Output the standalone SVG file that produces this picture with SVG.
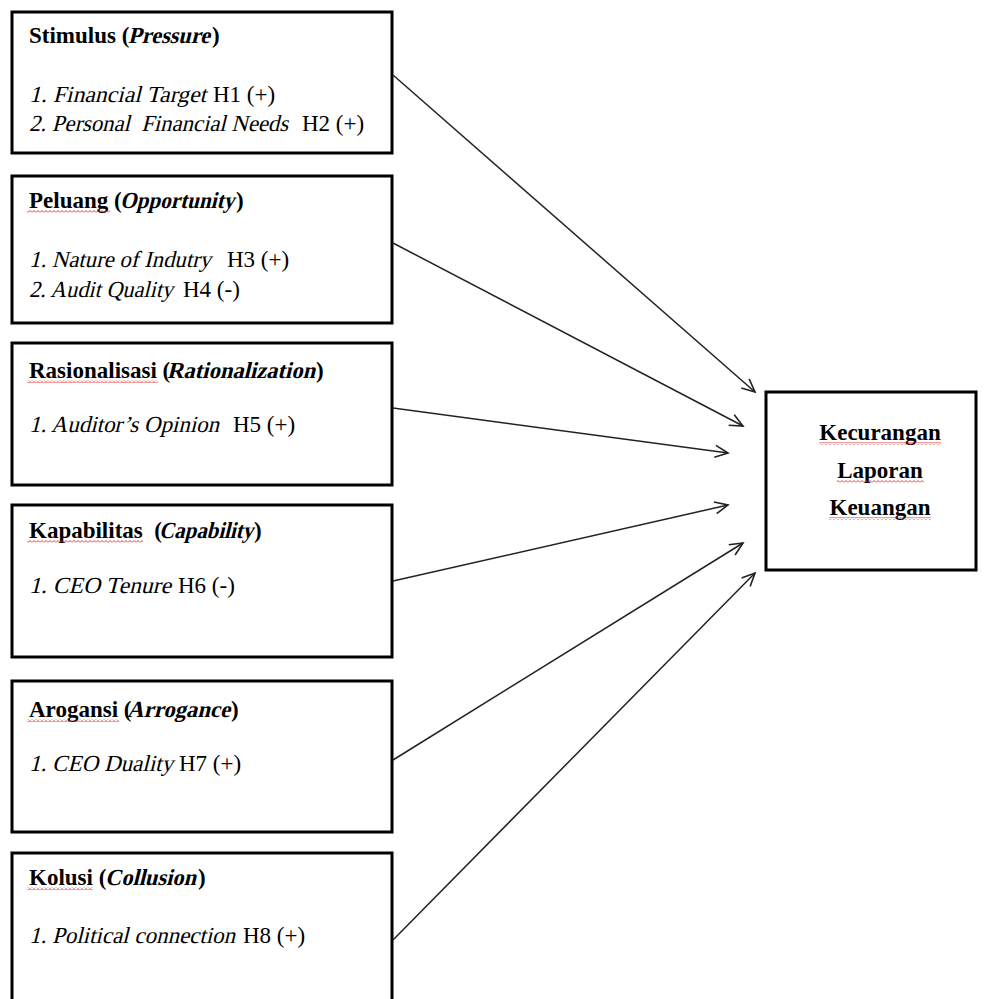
<svg xmlns="http://www.w3.org/2000/svg" width="985" height="999" viewBox="0 0 985 999">
<style>
.box{fill:#fff;stroke:#000;stroke-width:3}
text{font-family:"Liberation Serif",serif;font-size:23px;fill:#000;white-space:pre}
.t{font-weight:bold}
.conn line{stroke:#222;stroke-width:1.5;fill:none;marker-end:url(#arr)}
.sq{fill:url(#squig)}
</style>
<defs>
<marker id="arr" markerUnits="userSpaceOnUse" viewBox="-15 -8 17 16" refX="0" refY="0" markerWidth="17" markerHeight="16" orient="auto">
<path d="M-13,-6 L0,0 L-13,6" fill="none" stroke="#222" stroke-width="1.6"/>
</marker>
<pattern id="squig" patternUnits="userSpaceOnUse" width="4" height="3">
<path d="M0,2.5 L2,0.5 L4,2.5" fill="none" stroke="#e02020" stroke-width="0.9"/>
</pattern>
</defs>
<rect width="985" height="999" fill="#fff"/>
<g id="stimulus">
<rect class="box" x="12" y="12" width="380" height="141"/>
<text x="29" y="43" class="t">Stimulus (</text>
<text class="t" transform="translate(128,43) skewX(-14)" textLength="82" lengthAdjust="spacingAndGlyphs">Pressure</text>
<text x="212" y="43" class="t">)</text>
<text transform="translate(29,102) skewX(-14)" textLength="177" lengthAdjust="spacingAndGlyphs">1. Financial Target</text>
<text x="213" y="102">H1 (+)</text>
<text transform="translate(29,131) skewX(-14)" textLength="259" lengthAdjust="spacingAndGlyphs">2. Personal  Financial Needs</text>
<text x="302" y="131">H2 (+)</text>
</g>
<g id="peluang">
<rect class="box" x="12" y="176" width="380" height="147"/>
<text x="29" y="208" class="t">Peluang (</text>
<text class="t" transform="translate(120,208) skewX(-14)" textLength="114" lengthAdjust="spacingAndGlyphs">Opportunity</text>
<text x="236" y="208" class="t">)</text>
<rect class="sq" x="27" y="210" width="83" height="3"/>
<text transform="translate(29,267) skewX(-14)" textLength="182" lengthAdjust="spacingAndGlyphs">1. Nature of Indutry</text>
<text x="227" y="267">H3 (+)</text>
<text transform="translate(29,297) skewX(-14)" textLength="144" lengthAdjust="spacingAndGlyphs">2. Audit Quality</text>
<text x="183" y="297">H4 (-)</text>
</g>
<g id="rasionalisasi">
<rect class="box" x="12" y="343" width="380" height="142"/>
<text x="29" y="378" class="t">Rasionalisasi (</text>
<text class="t" transform="translate(167,378) skewX(-14)" textLength="148" lengthAdjust="spacingAndGlyphs">Rationalization</text>
<text x="316" y="378" class="t">)</text>
<rect class="sq" x="27" y="380" width="131" height="3"/>
<text transform="translate(29,432) skewX(-14)" textLength="190" lengthAdjust="spacingAndGlyphs">1. Auditor’s Opinion</text>
<text x="233" y="432">H5 (+)</text>
</g>
<g id="kapabilitas">
<rect class="box" x="12" y="505" width="380" height="152"/>
<text x="29" y="538" class="t">Kapabilitas  (</text>
<text class="t" transform="translate(159,538) skewX(-14)" textLength="94" lengthAdjust="spacingAndGlyphs">Capability</text>
<text x="254" y="538" class="t">)</text>
<rect class="sq" x="27" y="540" width="116" height="3"/>
<text transform="translate(29,593) skewX(-14)" textLength="142" lengthAdjust="spacingAndGlyphs">1. CEO Tenure</text>
<text x="178" y="593">H6 (-)</text>
</g>
<g id="arogansi">
<rect class="box" x="12" y="681" width="380" height="151"/>
<text x="29" y="717" class="t">Arogansi (</text>
<text class="t" transform="translate(127,717) skewX(-14)" textLength="103" lengthAdjust="spacingAndGlyphs">Arrogance</text>
<text x="231" y="717" class="t">)</text>
<rect class="sq" x="27" y="719" width="92" height="3"/>
<text transform="translate(29,771) skewX(-14)" textLength="144" lengthAdjust="spacingAndGlyphs">1. CEO Duality</text>
<text x="179" y="771">H7 (+)</text>
</g>
<g id="kolusi">
<rect class="box" x="12" y="853" width="380" height="170"/>
<text x="29" y="885" class="t">Kolusi (</text>
<text class="t" transform="translate(105,885) skewX(-14)" textLength="91" lengthAdjust="spacingAndGlyphs">Collusion</text>
<text x="198" y="885" class="t">)</text>
<rect class="sq" x="27" y="887" width="66" height="3"/>
<text transform="translate(29,943) skewX(-14)" textLength="206" lengthAdjust="spacingAndGlyphs">1. Political connection</text>
<text x="243" y="943">H8 (+)</text>
</g>
<g id="kecurangan">
<rect class="box" x="766" y="392" width="210" height="178"/>
<text x="880" y="440" class="t" text-anchor="middle">Kecurangan</text>
<rect class="sq" x="819" y="442" width="122" height="3"/>
<text x="880" y="478" class="t" text-anchor="middle">Laporan</text>
<rect class="sq" x="837" y="480" width="87" height="3"/>
<text x="880" y="515" class="t" text-anchor="middle">Keuangan</text>
<rect class="sq" x="829" y="517" width="102" height="3"/>
</g>
<g id="connectors" class="conn">
<line x1="393" y1="75" x2="755" y2="392"/>
<line x1="393" y1="243" x2="743" y2="426"/>
<line x1="393" y1="408" x2="728" y2="453"/>
<line x1="393" y1="581" x2="728" y2="505"/>
<line x1="393" y1="760" x2="743" y2="543"/>
<line x1="393" y1="940" x2="755" y2="573"/>
</g>
</svg>
